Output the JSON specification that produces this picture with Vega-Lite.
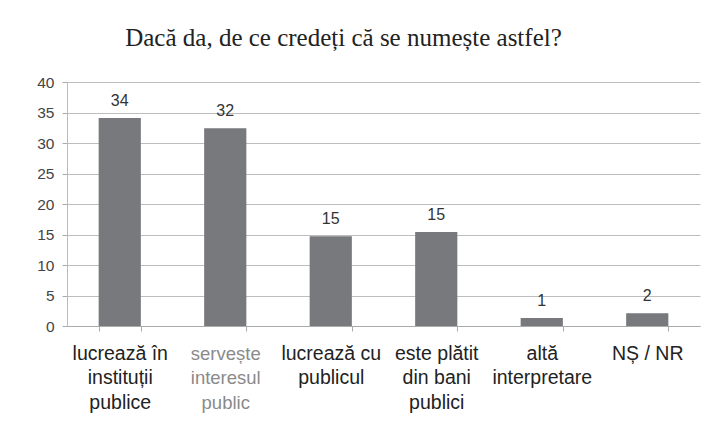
{
  "$schema": "https://vega.github.io/schema/vega-lite/v6.json",
  "width": 633,
  "height": 244,
  "autosize": {"type": "none"},
  "padding": {"left": 67, "top": 82, "right": 14, "bottom": 110},
  "background": "white",
  "title": {
    "text": "Dacă da, de ce credeți că se numește astfel?",
    "font": "Liberation Serif",
    "fontSize": 25,
    "fontWeight": "normal",
    "color": "#222222",
    "anchor": "middle",
    "dx": -40,
    "offset": 24
  },
  "data": {
    "values": [
      {"cat": "lucrează în\ninstituții\npublice", "value": 34.1, "label": "34"},
      {"cat": "servește\ninteresul\npublic", "value": 32.4, "label": "32"},
      {"cat": "lucrează cu\npublicul", "value": 14.7, "label": "15"},
      {"cat": "este plătit\ndin bani\npublici", "value": 15.4, "label": "15"},
      {"cat": "altă\ninterpretare", "value": 1.3, "label": "1"},
      {"cat": "NȘ / NR", "value": 2.1, "label": "2"}
    ]
  },
  "encoding": {
    "x": {
      "field": "cat",
      "type": "nominal",
      "sort": null,
      "scale": {"paddingInner": 0.6, "paddingOuter": 0.3},
      "axis": {
        "title": null,
        "labelAngle": 0,
        "labelOverlap": false,
        "labelExpr": "split(datum.label, '\\n')",
        "labelFont": "Liberation Sans",
        "labelFontSize": {"condition": {"test": "indexof(datum.label, 'servește') >= 0", "value": 18.5}, "value": 19.5},
        "labelLineHeight": 24.5,
        "labelColor": {"condition": {"test": "indexof(datum.label, 'servește') >= 0", "value": "#8a8a8a"}, "value": "#222222"},
        "labelPadding": 13,
        "tickBand": "extent",
        "tickSize": 5,
        "tickColor": "#aaaaaa",
        "domainColor": "#aaaaaa",
        "grid": false
      }
    },
    "y": {
      "field": "value",
      "type": "quantitative",
      "scale": {"domain": [0, 40], "nice": false},
      "axis": {
        "title": null,
        "values": [0, 5, 10, 15, 20, 25, 30, 35, 40],
        "labelFont": "Liberation Sans",
        "labelFontSize": 15.5,
        "labelColor": "#444444",
        "labelPadding": 8,
        "tickSize": 5,
        "tickColor": "#aaaaaa",
        "domainColor": "#bbbbbb",
        "gridColor": "#bdbdbd",
        "gridWidth": 1
      }
    }
  },
  "layer": [
    {"mark": {"type": "bar", "color": "#77797c"}},
    {
      "mark": {"type": "text", "baseline": "bottom", "dy": -9, "font": "Liberation Sans", "fontSize": 16, "color": "#333333"},
      "encoding": {"text": {"field": "label"}}
    }
  ],
  "config": {"view": {"stroke": null}}
}
